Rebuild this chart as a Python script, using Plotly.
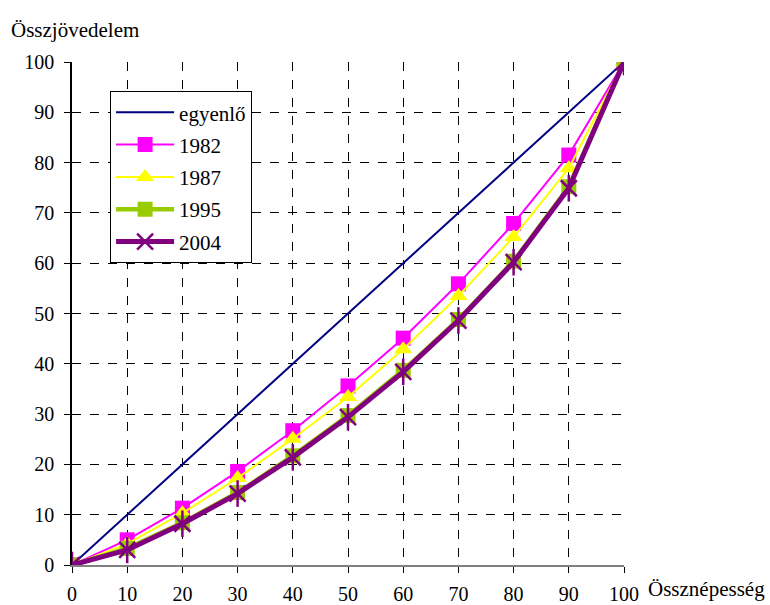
import plotly.graph_objects as go

# Lorenz curves: cumulative population share (%) vs cumulative income share (%)
population = [0, 10, 20, 30, 40, 50, 60, 70, 80, 90, 100]
equal = [0, 10, 20, 30, 40, 50, 60, 70, 80, 90, 100]
y1982 = [0, 5.0, 11.3, 18.6, 26.7, 35.6, 45.1, 55.9, 67.9, 81.5, 100]
y1987 = [0, 4.2, 10.3, 17.3, 25.1, 33.4, 42.9, 53.5, 65.2, 78.9, 100]
y1995 = [0, 3.3, 8.4, 14.4, 21.7, 29.7, 38.7, 48.8, 60.4, 75.2, 100]
y2004 = [0, 3.0, 8.2, 14.2, 21.4, 29.4, 38.4, 48.6, 60.2, 74.9, 100]

x_ticks = [0, 10, 20, 30, 40, 50, 60, 70, 80, 90, 100]
y_ticks = [0, 10, 20, 30, 40, 50, 60, 70, 80, 90, 100]

FONT = "Times New Roman, Liberation Serif, serif"

fig = go.Figure()

fig.add_trace(go.Scatter(
    x=population, y=equal, name="egyenlő", mode="lines",
    line=dict(color="#000080", width=2), legendgroup="a"))
fig.add_trace(go.Scatter(
    x=population, y=y1982, name="1982", mode="lines+markers",
    line=dict(color="#FF00FF", width=2),
    marker=dict(symbol="square", size=15, color="#FF00FF"), legendgroup="b"))
fig.add_trace(go.Scatter(
    x=population, y=y1987, name="1987", mode="lines+markers",
    line=dict(color="#FFFF00", width=2),
    marker=dict(symbol="triangle-up", size=16, color="#FFFF00"), legendgroup="c"))
fig.add_trace(go.Scatter(
    x=population, y=y1995, name="1995", mode="lines+markers",
    line=dict(color="#99CC00", width=4.5),
    marker=dict(symbol="square", size=15, color="#99CC00"), legendgroup="d"))
fig.add_trace(go.Scatter(
    x=population, y=y2004, name="2004", mode="lines+markers",
    line=dict(color="#800080", width=5),
    marker=dict(symbol="x-thin-open", size=16, color="#800080",
                line=dict(color="#800080", width=2.5)), legendgroup="e"))
fig.add_trace(go.Scatter(
    x=population, y=y2004, mode="markers", showlegend=False, hoverinfo="skip",
    marker=dict(symbol="line-ns-open", size=19, color="#800080",
                line=dict(color="#800080", width=2.5)), legendgroup="e"))

fig.update_layout(
    width=770, height=605,
    margin=dict(l=72, r=146, t=62, b=40, autoexpand=False),
    paper_bgcolor="white", plot_bgcolor="white",
    font=dict(family=FONT, size=20, color="black"),
    showlegend=True,
    legend=dict(
        x=0.069, y=0.942, xanchor="left", yanchor="top",
        bgcolor="white", bordercolor="black", borderwidth=1,
        font=dict(family=FONT, size=21, color="black"),
        traceorder="grouped", tracegroupgap=2, itemwidth=58,
    ),
)

fig.update_xaxes(
    range=[0, 100], tickvals=x_ticks, ticktext=[str(v) for v in x_ticks],
    showgrid=True, gridcolor="black", griddash="dash", gridwidth=1,
    zeroline=False, showline=True, linecolor="#808080", linewidth=2,
    ticks="outside", ticklen=6, tickcolor="black", ticklabelstandoff=4,
    tickfont=dict(family=FONT, size=20), automargin=False,
)
fig.update_yaxes(
    range=[0, 100], tickvals=y_ticks, ticktext=[str(v) for v in y_ticks],
    showgrid=True, gridcolor="black", griddash="dash", gridwidth=1,
    zeroline=False, showline=True, linecolor="black", linewidth=1.5,
    ticks="outside", ticklen=6, tickcolor="black", ticklabelstandoff=6,
    tickfont=dict(family=FONT, size=20), automargin=False,
)

fig.add_annotation(
    text="Összjövedelem", xref="paper", yref="paper", x=-0.115, y=1.0,
    xanchor="left", yanchor="bottom", yshift=18, showarrow=False,
    font=dict(family=FONT, size=21, color="black"))
fig.add_annotation(
    text="Össznépesség", xref="paper", yref="paper", x=1.0, y=0,
    xanchor="left", yanchor="top", xshift=22, yshift=-10, showarrow=False,
    font=dict(family=FONT, size=21, color="black"))

fig.write_html("out.html")
